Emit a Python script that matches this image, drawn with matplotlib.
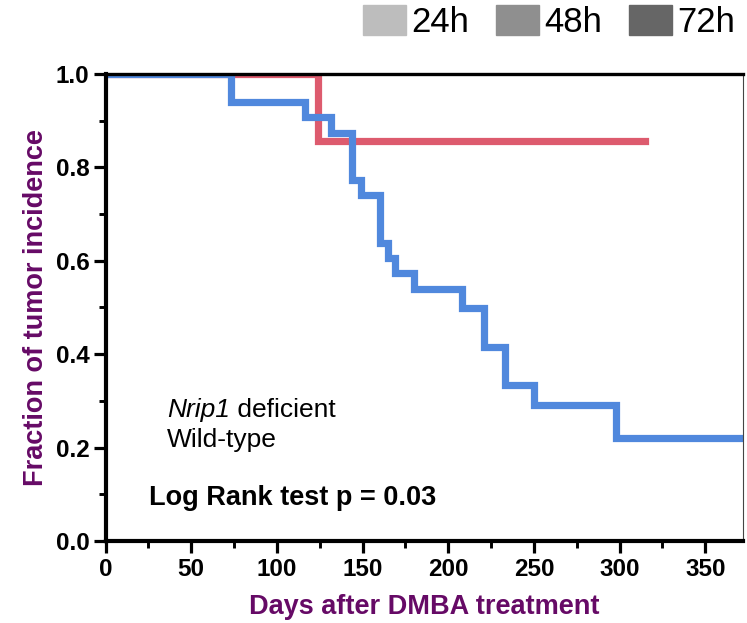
import matplotlib
matplotlib.use("Agg")
import matplotlib.pyplot as plt
from matplotlib.patches import Patch
from matplotlib.ticker import MultipleLocator, FormatStrFormatter

# ---- data ----
wt_days = [0, 73, 116.5, 131.5, 144, 149, 160, 165, 169, 180, 208, 221, 233, 250, 298, 372]
wt_frac = [1.0, 0.941, 0.907, 0.874, 0.773, 0.741, 0.639, 0.607, 0.573, 0.539, 0.498, 0.416, 0.333, 0.291, 0.220, 0.220]
ko_days = [0, 124, 315]
ko_frac = [1.0, 0.857, 0.857]

legend_labels = ["24h", "48h", "72h"]
legend_colors = ["#bdbdbd", "#8f8f8f", "#666666"]

x_ticks = [0, 50, 100, 150, 200, 250, 300, 350]
y_ticks = [0.0, 0.2, 0.4, 0.6, 0.8, 1.0]

plt.rcParams['font.family'] = ['Liberation Sans', 'DejaVu Sans']

W, H = 747, 623
fig = plt.figure(figsize=(W / 100, H / 100), dpi=100)
ax = fig.add_axes([105.5 / W, 82 / H, (743 - 105.5) / W, (541 - 74) / H])

blue = "#5088dd"
red = "#dd5b6e"
purple = "#660a66"

ax.step(ko_days, ko_frac, where='post', color=red, lw=5.2, solid_joinstyle='miter', zorder=2)
ax.step(wt_days, wt_frac, where='post', color=blue, lw=5.2, solid_joinstyle='miter', zorder=2.1)

ax.set_xlim(0, 372)
ax.set_ylim(0, 1.0)
ax.set_xticks(x_ticks)
ax.set_yticks(y_ticks)
ax.xaxis.set_minor_locator(MultipleLocator(25))
ax.yaxis.set_minor_locator(MultipleLocator(0.1))
ax.yaxis.set_major_formatter(FormatStrFormatter('%.1f'))

ax.tick_params(which='major', direction='out', length=8.6, width=2.3, pad=3,
               labelsize=17.5)
ax.tick_params(axis='x', which='major', pad=4)
ax.tick_params(which='minor', direction='out', length=5, width=2.1)
for lab in ax.get_xticklabels() + ax.get_yticklabels():
    lab.set_fontweight('bold')

ax.spines['left'].set_linewidth(3.0)
ax.spines['bottom'].set_linewidth(3.0)
ax.spines['top'].set_linewidth(2.4)
ax.spines['right'].set_linewidth(0.8)
ax.spines['right'].set_color('#444444')
for s in ax.spines.values():
    s.set_zorder(3)

ax.set_ylabel("Fraction of tumor incidence", fontsize=19.5, fontweight='bold',
              color=purple, labelpad=5)
ax.set_xlabel("Days after DMBA treatment", fontsize=19.5, fontweight='bold',
              color=purple, labelpad=9)

t = ax.text(36, 0.2655, "Nrip1", style='italic', fontsize=19, va='baseline')
fig.canvas.draw()
bb = t.get_window_extent()
x_end = ax.transData.inverted().transform((bb.x1, bb.y0))[0]
ax.text(x_end, 0.2655, " deficient", fontsize=19, va='baseline')
ax.text(36, 0.201, "Wild-type", fontsize=19, va='baseline')
ax.text(25.5, 0.077, "Log Rank test p = 0.03", fontsize=19.5, fontweight='bold', va='baseline')

handles = [Patch(facecolor=c, edgecolor=c) for c in legend_colors]
fig.legend(handles, legend_labels, loc='upper right', bbox_to_anchor=(735 / W, 1 - 5 / H),
           ncol=3, frameon=False, fontsize=25, handlelength=1.25, handleheight=0.95,
           handletextpad=0.15, columnspacing=0.76, borderaxespad=0.0, borderpad=0.0)

fig.savefig("out.png", dpi=100)
